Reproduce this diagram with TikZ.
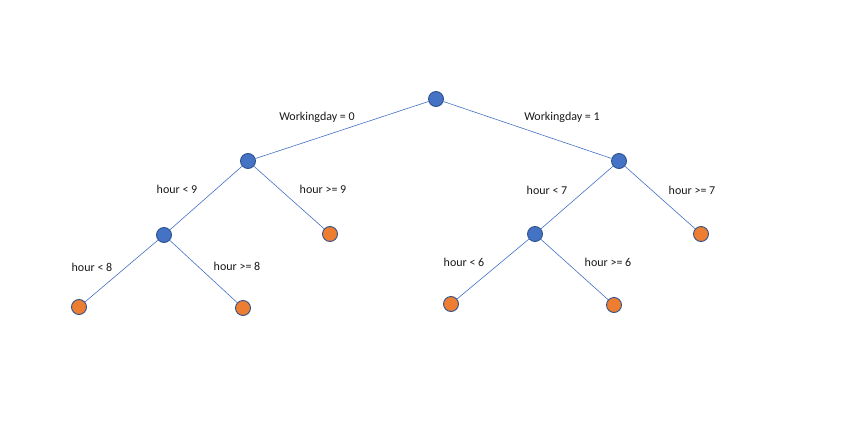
\documentclass[tikz,border=0pt]{standalone}
\usepackage{fontspec}
\setmainfont{Carlito}
\definecolor{nblue}{HTML}{4472C4}
\definecolor{nborder}{HTML}{2F528F}
\definecolor{norange}{HTML}{ED7D31}
\begin{document}
\begin{tikzpicture}[x=1pt,y=-1pt,
  inner/.style={circle,draw=nborder,fill=nblue,line width=0.9pt,minimum size=15pt,inner sep=0pt},
  leaf/.style={circle,draw=nborder,fill=norange,line width=0.9pt,minimum size=15pt,inner sep=0pt},
  edge/.style={draw=nblue,line width=0.6pt},
  lbl/.style={font=\fontsize{12}{14}\selectfont,text=black!90,inner sep=0pt}]
\useasboundingbox[fill=white] (0,0) rectangle (842,420);
\node[inner] (root) at (436,99) {};
\node[inner] (L) at (248,161) {};
\node[inner] (R) at (619,161) {};
\node[inner] (LL) at (164,235) {};
\node[leaf] (LR) at (330,234) {};
\node[inner] (RL) at (535,234) {};
\node[leaf] (RR) at (701,234) {};
\node[leaf] (LLL) at (79,307) {};
\node[leaf] (LLR) at (243,308) {};
\node[leaf] (RLL) at (451,304) {};
\node[leaf] (RLR) at (614,305) {};
\draw[edge] (root) -- (L);
\draw[edge] (root) -- (R);
\draw[edge] (L) -- (LL);
\draw[edge] (L) -- (LR);
\draw[edge] (R) -- (RL);
\draw[edge] (R) -- (RR);
\draw[edge] (LL) -- (LLL);
\draw[edge] (LL) -- (LLR);
\draw[edge] (RL) -- (RLL);
\draw[edge] (RL) -- (RLR);
\node[lbl] (t1) at (317,117) {Workingday = 0};
\node[lbl] (t2) at (562,117) {Workingday = 1};
\node[lbl] (t3) at (177,189) {hour < 9};
\node[lbl] (t4) at (323,189) {hour >= 9};
\node[lbl] (t5) at (547,190) {hour < 7};
\node[lbl] (t6) at (692,190) {hour >= 7};
\node[lbl] (t7) at (92,267) {hour < 8};
\node[lbl] (t8) at (237,266) {hour >= 8};
\node[lbl] (t9) at (464,262) {hour < 6};
\node[lbl] (t10) at (608,262) {hour >= 6};
\end{tikzpicture}
\end{document}
